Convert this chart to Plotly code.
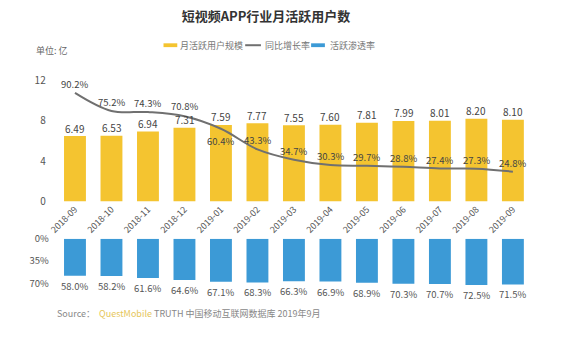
import plotly.graph_objects as go

months = ["2018-09", "2018-10", "2018-11", "2018-12", "2019-01", "2019-02", "2019-03",
          "2019-04", "2019-05", "2019-06", "2019-07", "2019-08", "2019-09"]
mau = [6.49, 6.53, 6.94, 7.31, 7.59, 7.77, 7.55, 7.60, 7.81, 7.99, 8.01, 8.20, 8.10]
yoy = [90.2, 75.2, 74.3, 70.8, 60.4, 43.3, 34.7, 30.3, 29.7, 28.8, 27.4, 27.3, 24.8]
penetration = [58.0, 58.2, 61.6, 64.6, 67.1, 68.3, 66.3, 66.9, 68.9, 70.3, 70.7, 72.5, 71.5]
legend_names = ["月活跃用户规模", "同比增长率", "活跃渗透率"]

W, H = 565, 341
def py(px):
    return 1 - px / H
def pxx(px):
    return px / W

yellow = "#F4C430"
blue = "#3C9AD6"
gray_line = "#707070"
txt = "#555555"
font_family = "Noto Sans CJK SC, Noto Sans, sans-serif"

fig = go.Figure()
fig.add_trace(go.Bar(
    x=months, y=mau, name=legend_names[0], marker=dict(color=yellow, line=dict(width=0)),
    width=0.6, xaxis="x", yaxis="y"))
fig.add_trace(go.Scatter(
    x=months, y=yoy, name=legend_names[1], mode="lines",
    line=dict(color=gray_line, width=2, shape="spline", smoothing=1.0),
    xaxis="x", yaxis="y2"))
fig.add_trace(go.Bar(
    x=months, y=penetration, name=legend_names[2], marker=dict(color=blue, line=dict(width=0)),
    width=0.6, xaxis="x2", yaxis="y3"))

annotations = []
for m, v in zip(months, mau):
    annotations.append(dict(x=m, y=v, xref="x", yref="y", text=f"{v:.2f}", showarrow=False,
                            yanchor="middle", yshift=8, font=dict(size=10, color="#444")))
for i, (m, v) in enumerate(zip(months, yoy)):
    shift = -12 if i == 4 else (10 if i == 3 else 9)
    annotations.append(dict(x=m, y=v, xref="x", yref="y2", text=f"{v:.1f}%", showarrow=False,
                            yanchor="middle", yshift=shift, font=dict(size=9.5, color="#444")))
for m, v in zip(months, penetration):
    annotations.append(dict(x=m, y=v, xref="x2", yref="y3", text=f"{v:.1f}%", showarrow=False,
                            yanchor="middle", yshift=-10, font=dict(size=9.5, color="#555")))

annotations += [
    dict(text="单位: 亿", x=pxx(25), y=py(44), xref="paper", yref="paper",
         xanchor="left", yanchor="middle", showarrow=False, font=dict(size=9, color="#666")),
    dict(text="Source：  <span style='color:#E6C65A'>QuestMobile</span> TRUTH 中国移动互联网数据库 2019年9月",
         x=pxx(47), y=py(320), xref="paper", yref="paper", xanchor="left",
         yanchor="middle", showarrow=False, font=dict(size=9, color="#888")),
]
# manual legend
leg_y = py(38)
for name, xt in zip(legend_names, [172, 258, 324]):
    annotations.append(dict(text=name, x=pxx(xt), y=leg_y, xref="paper", yref="paper",
                            xanchor="left", yanchor="middle", showarrow=False,
                            font=dict(size=9, color="#777")))
shapes = [
    dict(type="rect", xref="paper", yref="paper", x0=pxx(157), x1=pxx(171), y0=py(40), y1=py(36),
         fillcolor=yellow, line=dict(width=0)),
    dict(type="line", xref="paper", yref="paper", x0=pxx(240), x1=pxx(256), y0=leg_y, y1=leg_y,
         line=dict(color=gray_line, width=2)),
    dict(type="rect", xref="paper", yref="paper", x0=pxx(307), x1=pxx(321), y0=py(40), y1=py(36),
         fillcolor=blue, line=dict(width=0)),
]

xdom = [pxx(48.5), pxx(530.6)]
fig.update_layout(
    width=W, height=H, margin=dict(l=0, r=0, t=0, b=0),
    paper_bgcolor="white", plot_bgcolor="white",
    font=dict(family=font_family, color=txt),
    title=dict(text="<b>短视频APP行业月活跃用户数</b>", x=pxx(266), xanchor="center",
               y=py(16), yanchor="middle", font=dict(size=13, color="#333")),
    showlegend=False,
    bargap=0.4,
    xaxis=dict(type="category", domain=xdom, anchor="y", tickangle=-45,
               tickfont=dict(size=9, color=txt),
               showline=False, ticks="", showgrid=False, range=[-0.5, 12.5]),
    yaxis=dict(domain=[py(202), py(75)], range=[0, 12], tickvals=[0, 4, 8, 12],
               tickfont=dict(size=10, color=txt), showgrid=False, zeroline=False,
               showline=False, ticklabelstandoff=10),
    yaxis2=dict(overlaying="y", range=[0, 100.5], visible=False),
    xaxis2=dict(type="category", domain=xdom, anchor="y3", matches="x", visible=False),
    yaxis3=dict(domain=[py(290.7), py(241)], range=[74, 0], tickvals=[0, 35, 70],
                ticktext=["0%", "35%", "70%"], tickfont=dict(size=9.5, color=txt),
                showgrid=False, zeroline=False, showline=False, ticklabelstandoff=7),
    annotations=annotations,
    shapes=shapes,
)

fig.write_html("out.html")
